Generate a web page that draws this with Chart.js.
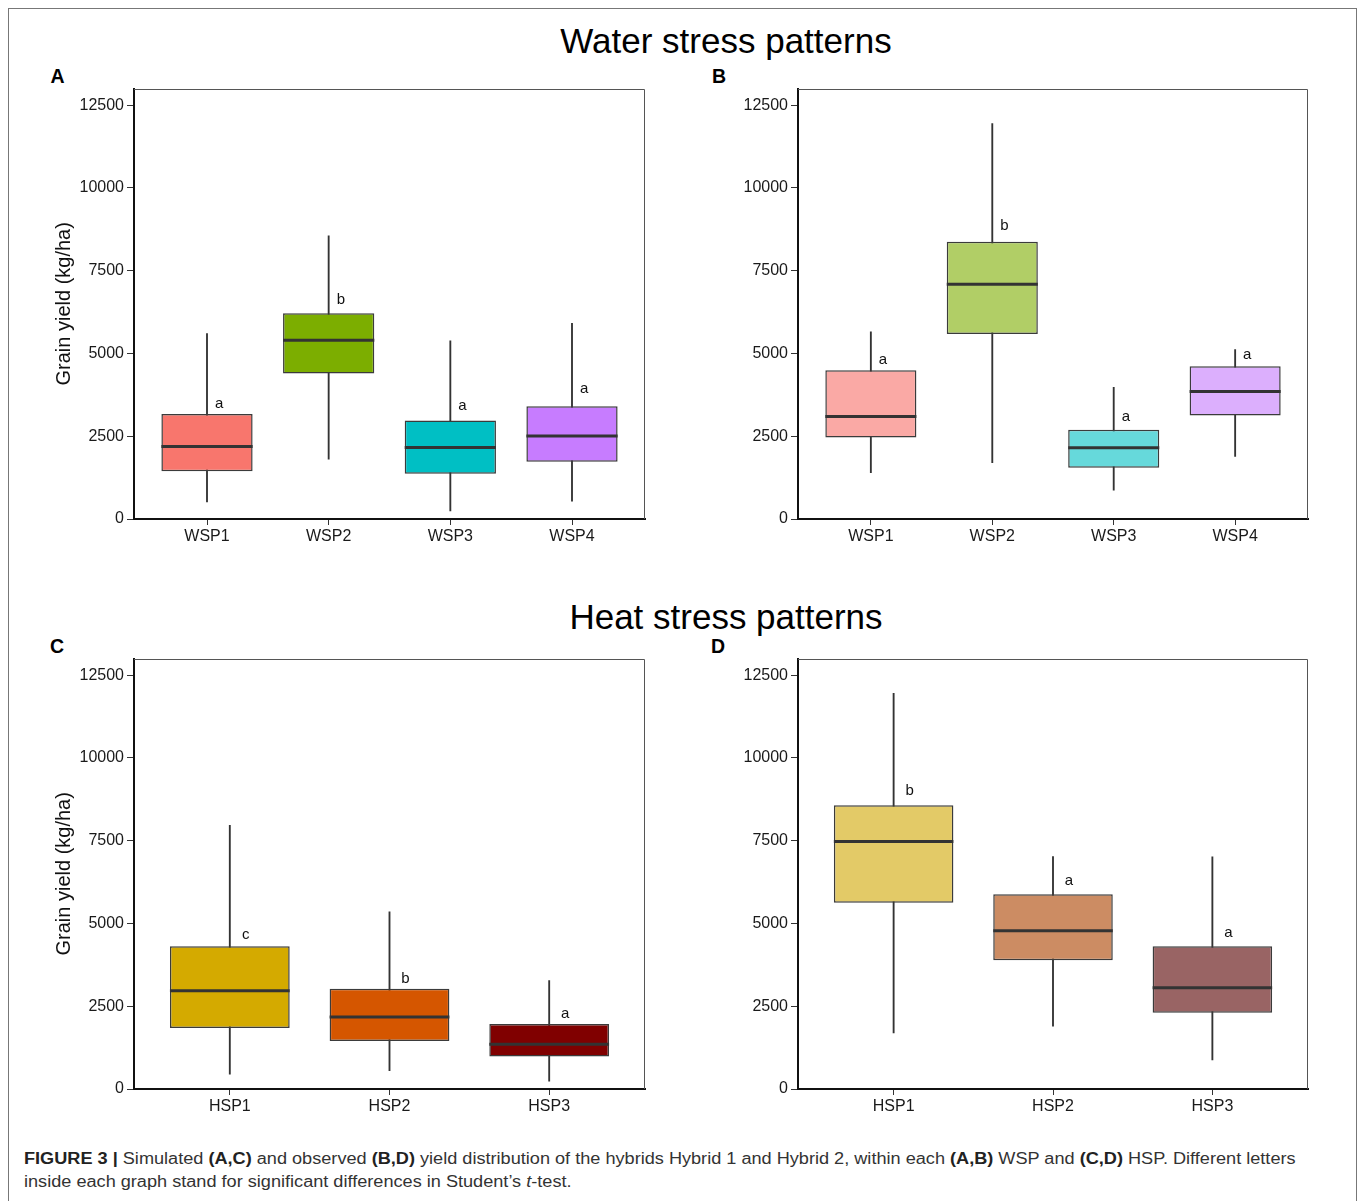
<!DOCTYPE html>
<html>
<head>
<meta charset="utf-8">
<script src="https://cdn.jsdelivr.net/npm/chart.js@4.4.0/dist/chart.umd.min.js"></script>
<style>
  body { margin: 0; background: #fff; width: 1358px; height: 1201px; position: relative; overflow: hidden;
         font-family: 'Liberation Sans', Arial, Helvetica, sans-serif; }
  .frame { position: absolute; left: 8px; top: 8px; width: 1347px; height: 1300px; border: 1px solid #777; }
  .title { position: absolute; font-size: 35px; line-height: 35px; color: #000; transform: translateX(-50%); white-space: nowrap; }
  .tag { position: absolute; font-weight: bold; font-size: 19.5px; line-height: 19.5px; color: #000; }
  canvas { position: absolute; }
  .caption { position: absolute; left: 24px; top: 1147px; font-size: 16px; line-height: 23px; color: #333; white-space: nowrap;
             transform: scaleX(1.133); transform-origin: 0 0; }
  .caption b { color: #222; }
</style>
</head>
<body>
<div class="frame"></div>

<div class="title" style="left:726px;top:23px">Water stress patterns</div>
<div class="title" style="left:726px;top:598.5px">Heat stress patterns</div>

<div class="tag" style="left:50.5px;top:66.5px">A</div>
<div class="tag" style="left:712px;top:66.5px">B</div>
<div class="tag" style="left:50px;top:637px">C</div>
<div class="tag" style="left:711px;top:637px">D</div>

<canvas id="ch-a" width="680" height="484" style="left:0;top:76px"></canvas>
<canvas id="ch-b" width="678" height="484" style="left:680px;top:76px"></canvas>
<canvas id="ch-c" width="680" height="484" style="left:0;top:646px"></canvas>
<canvas id="ch-d" width="678" height="484" style="left:680px;top:646px"></canvas>

<div class="caption"><b>FIGURE 3 |</b> Simulated <b>(A,C)</b> and observed <b>(B,D)</b> yield distribution of the hybrids Hybrid 1 and Hybrid 2, within each <b>(A,B)</b> WSP and <b>(C,D)</b> HSP. Different letters<br>inside each graph stand for significant differences in Student’s <i>t</i>-test.</div>

<script>
// ── Datos ────────────────────────────────────────────────────────────────
const wspLabels = ['WSP1', 'WSP2', 'WSP3', 'WSP4'];
const hspLabels = ['HSP1', 'HSP2', 'HSP3'];
const yTicks    = [0, 2500, 5000, 7500, 10000, 12500];

// A: simulated, water stress patterns
const aMin = [516, 1806, 247, 537];
const aQ1  = [1440, 4396, 1365, 1730];
const aMed = [2193, 5396, 2160, 2504];
const aQ3  = [3171, 6212, 2977, 3407];
const aMax = [5600, 8556, 5385, 5911];
const aLetters = ['a', 'b', 'a', 'a'];
const aLetterY = [3364, 6503, 3289, 3805];

// B: observed, water stress patterns
const bMin = [1397, 1698, 871, 1892];
const bQ1  = [2461, 5589, 1548, 3128];
const bMed = [3095, 7094, 2150, 3848];
const bQ3  = [4493, 8373, 2698, 4611];
const bMax = [5653, 11941, 3977, 5116];
const bLetters = ['a', 'b', 'a', 'a'];
const bLetterY = [4686, 8727, 2945, 4837];

// C: simulated, heat stress patterns
const cMin = [446, 550, 239];
const cQ1  = [1846, 1452, 985];
const cMed = [2967, 2178, 1349];
const cQ3  = [4315, 3029, 1961];
const cMax = [7967, 5353, 3278];
const cLetters = ['c', 'b', 'a'];
const cLetterY = [4544, 3216, 2158];

// D: observed, heat stress patterns
const dMin = [1691, 1898, 882];
const dQ1  = [5622, 3890, 2303];
const dMed = [7479, 4782, 3060];
const dQ3  = [8568, 5882, 4315];
const dMax = [11950, 7023, 7012];
const dLetters = ['b', 'a', 'a'];
const dLetterY = [8869, 6162, 4595];

const wspSim = ['#F8766D', '#7CAE00', '#00BFC4', '#C77CFF'];
const wspObs = ['#FAA9A5', '#B1CE66', '#66D9DB', '#DCAFFD'];
const hspSim = ['#D4AA00', '#D55600', '#800000'];
const hspObs = ['#E3CA67', '#CC8C63', '#996464'];

const FONT = "'Liberation Sans', Arial, Helvetica, sans-serif";

// ── Mediana, letras y borde superior/derecho ──────────────────────────────
function boxExtras(med, letters, letterY) {
    return {
        id: 'boxExtras',
        afterDatasetsDraw(chart) {
            const { ctx, chartArea: ca, scales: { x, y } } = chart;
            const boxes = chart.getDatasetMeta(1).data;
            const unit  = x.getPixelForValue(2) - x.getPixelForValue(1);
            ctx.save();
            ctx.strokeStyle = '#333'; ctx.lineWidth = 3;
            boxes.forEach((b, i) => {
                const py = y.getPixelForValue(med[i]);
                ctx.beginPath();
                ctx.moveTo(b.x - b.width / 2, py);
                ctx.lineTo(b.x + b.width / 2, py);
                ctx.stroke();
            });
            ctx.fillStyle = '#111';
            ctx.font = '15px ' + FONT;
            ctx.textAlign = 'center'; ctx.textBaseline = 'alphabetic';
            boxes.forEach((b, i) => ctx.fillText(letters[i], b.x + unit * 0.1, y.getPixelForValue(letterY[i])));
            ctx.strokeStyle = '#555'; ctx.lineWidth = 1;
            ctx.beginPath();
            ctx.moveTo(ca.left, Math.round(ca.top) + 0.5);
            ctx.lineTo(Math.round(ca.right) - 0.5, Math.round(ca.top) + 0.5);
            ctx.lineTo(Math.round(ca.right) - 0.5, ca.bottom);
            ctx.stroke();
            ctx.restore();
        },
    };
}

// ── Panel de cajas ────────────────────────────────────────────────────────
function boxPanel(id, labels, lo, q1, med, q3, hi, letters, letterY, fills, lay) {
    const xs = labels.map((_, i) => i + 1);
    return new Chart(document.getElementById(id), {
        type: 'bar',
        data: {
            datasets: [
                { label: 'whisker', data: xs.map((x, i) => ({ x, y: [lo[i], hi[i]] })),
                  backgroundColor: '#333', barThickness: 1.2, grouped: false, order: 2 },
                { label: 'box', data: xs.map((x, i) => ({ x, y: [q1[i], q3[i]] })),
                  backgroundColor: fills, borderColor: '#3b3b3b', borderWidth: 1.5, borderSkipped: false,
                  grouped: false, order: 1, barPercentage: 0.75, categoryPercentage: 1 },
            ],
        },
        options: {
            responsive: false, animation: false, devicePixelRatio: 1,
            layout: { padding: { left: lay.left, right: lay.right, top: lay.top, bottom: 1 } },
            plugins: { legend: { display: false }, tooltip: { enabled: false } },
            scales: {
                x: {
                    type: 'linear', min: 0.4, max: labels.length + 0.6, offset: false,
                    afterBuildTicks: s => { s.ticks = xs.map(v => ({ value: v })); },
                    ticks: { callback: v => labels[v - 1] ?? '', font: { family: FONT, size: 16 }, color: '#1a1a1a', padding: 2, maxRotation: 0 },
                    grid: { display: true, drawOnChartArea: false, drawTicks: true, tickLength: 6, color: '#333', offset: false },
                    border: { display: true, color: '#111', width: 2 },
                    afterFit: s => { s.height = 40; },
                },
                y: {
                    min: 0, max: 13000,
                    afterBuildTicks: s => { s.ticks = yTicks.map(v => ({ value: v })); },
                    ticks: { callback: v => String(v), font: { family: FONT, size: 16 }, color: '#1a1a1a', padding: 3 },
                    grid: { display: true, drawOnChartArea: false, drawTicks: true, tickLength: 7, color: '#333' },
                    border: { display: true, color: '#111', width: 2 },
                    title: { display: !!lay.yTitle, text: lay.yTitle || '', font: { family: FONT, size: 20 }, color: '#111', padding: 0 },
                    afterFit: s => { s.width = lay.axisW; },
                },
            },
        },
        plugins: [boxExtras(med, letters, letterY)],
    });
}

const YT = 'Grain yield (kg/ha)';
boxPanel('ch-a', wspLabels, aMin, aQ1, aMed, aQ3, aMax, aLetters, aLetterY, wspSim, { left: 52, axisW: 82, right: 35, top: 11.5, yTitle: YT });
boxPanel('ch-b', wspLabels, bMin, bQ1, bMed, bQ3, bMax, bLetters, bLetterY, wspObs, { left: 40, axisW: 78, right: 50, top: 11.5 });
boxPanel('ch-c', hspLabels, cMin, cQ1, cMed, cQ3, cMax, cLetters, cLetterY, hspSim, { left: 52, axisW: 82, right: 35, top: 12, yTitle: YT });
boxPanel('ch-d', hspLabels, dMin, dQ1, dMed, dQ3, dMax, dLetters, dLetterY, hspObs, { left: 40, axisW: 78, right: 50, top: 12 });
</script>
</body>
</html>
